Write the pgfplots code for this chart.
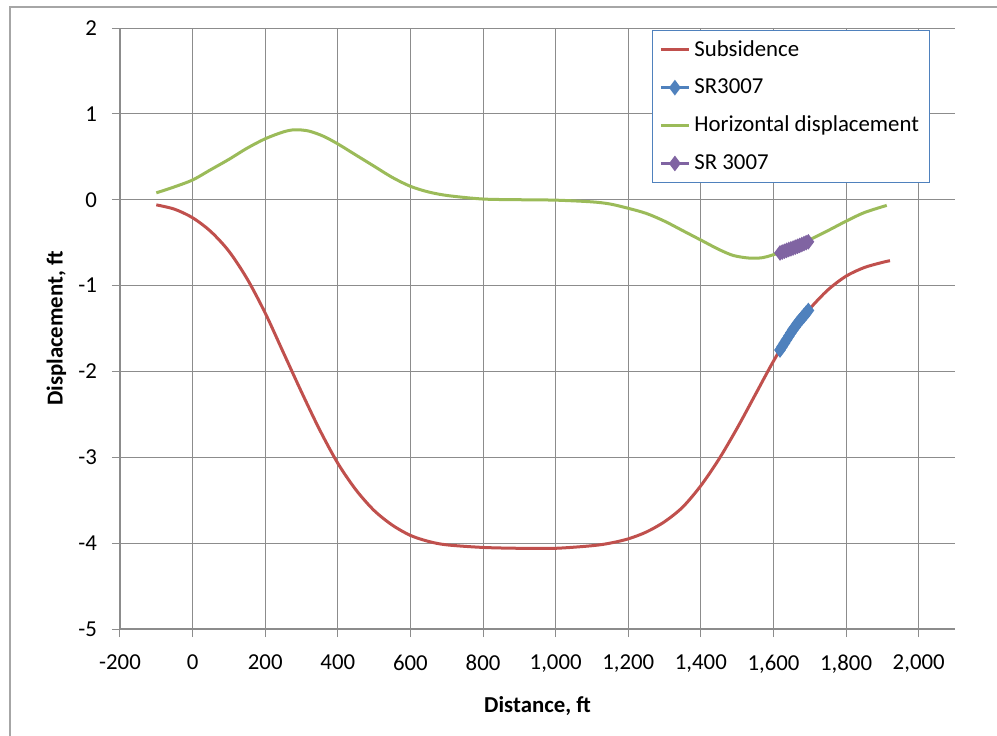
\documentclass[border=0pt]{standalone}
\usepackage{pgfplots}
\pgfplotsset{compat=1.18}
\usepackage{fontspec}
\setmainfont{Carlito}
\definecolor{exred}{HTML}{C0504D}
\definecolor{exblue}{HTML}{4F81BD}
\definecolor{exgreen}{HTML}{9BBB59}
\definecolor{expurple}{HTML}{8064A2}
\definecolor{gridgray}{HTML}{8C8C8C}
\definecolor{bordergray}{HTML}{A6A6A6}
\begin{document}
\begin{tikzpicture}
\useasboundingbox (0pt,0pt) rectangle (498.5pt,367.5pt);
\draw[bordergray,line width=0.6pt] (5pt,-3pt) -- (5pt,364pt) -- (503pt,364pt);
\begin{axis}[
  at={(60pt,53pt)}, anchor=south west,
  scale only axis, width=417.5pt, height=300.5pt,
  xmin=-200, xmax=2100, ymin=-5, ymax=2,
  xtick={-200,0,200,400,600,800,1000,1200,1400,1600,1800,2000},
  xticklabels={-200,0,200,400,600,800,{1,000},{1,200},{1,400},{1,600},{1,800},{2,000}},
  ytick={-5,-4,-3,-2,-1,0,1,2},
  yticklabels={-5,-4,-3,-2,-1,0,1,2},
  font=\fontsize{11.4}{13.7}\selectfont,
  tick label style={font=\fontsize{11.4}{13.7}\selectfont},
  grid=major,
  major grid style={gridgray,line width=0.5pt},
  axis line style={gridgray,line width=0.8pt},
  axis x line*=bottom, axis y line*=left,
  tick align=outside, major tick length=4pt,
  tick style={gridgray,line width=0.5pt},
  xticklabel style={yshift=-5.5pt},
  yticklabel style={xshift=-4pt},
  xlabel={\bfseries Distance, ft},
  ylabel={\bfseries Displacement, ft},
  xlabel style={at={(axis description cs:0.5,-0.129)},anchor=center},
  ylabel style={at={(axis description cs:-0.076,0.5)},anchor=center},
  legend style={at={(0.637,0.997)},anchor=north west,draw=exblue,line width=0.5pt,fill=white,
    font=\fontsize{11.4}{13.7}\selectfont,row sep=5.8pt,inner xsep=3.5pt,inner ysep=3pt,
    cells={anchor=west}},
  legend image code/.code={\draw[#1,mark=none] (0pt,0pt) -- (14pt,0pt); \draw[#1] plot coordinates {(7pt,0pt)};},
  clip=false,
]
\addplot[exred,line width=1.5pt,smooth,tension=0.5] coordinates {
(-100,-0.06) (-50,-0.11) (0,-0.21) (50,-0.37) (100,-0.60) (150,-0.92) (200,-1.32)
(250,-1.78) (300,-2.24) (350,-2.68) (400,-3.07) (450,-3.38) (500,-3.62) (550,-3.79)
(600,-3.91) (650,-3.98) (700,-4.02) (800,-4.05) (900,-4.06) (1000,-4.06)
(1100,-4.03) (1150,-4.00) (1200,-3.95) (1250,-3.87) (1300,-3.75) (1350,-3.58)
(1400,-3.33) (1450,-3.02) (1500,-2.66) (1550,-2.27) (1600,-1.88) (1650,-1.53)
(1700,-1.27) (1750,-1.05) (1800,-0.89) (1850,-0.79) (1900,-0.73) (1921,-0.71)};
\addlegendentry{Subsidence}
\addplot[exblue,line width=1.5pt,mark=diamond*,mark size=2.7pt,mark options={solid}] coordinates {
(1618,-1.75) (1624,-1.71) (1630,-1.67) (1636,-1.63) (1642,-1.59) (1648,-1.55)
(1654,-1.51) (1660,-1.48) (1666,-1.44) (1672,-1.41) (1678,-1.38) (1684,-1.35)
(1690,-1.32) (1696,-1.29)};
\addlegendentry{SR3007}
\addplot[exgreen,line width=1.5pt,smooth,tension=0.5] coordinates {
(-100,0.08) (-50,0.15) (0,0.23) (50,0.35) (100,0.47) (150,0.60) (200,0.71) (250,0.79)
(282,0.815) (320,0.80) (360,0.74) (400,0.65) (450,0.52) (500,0.39) (550,0.26)
(600,0.156) (650,0.09) (705,0.047) (800,0.008) (900,0.0) (1000,-0.005) (1100,-0.025)
(1150,-0.05) (1200,-0.10) (1250,-0.16) (1300,-0.25) (1350,-0.36) (1400,-0.47) (1450,-0.58)
(1490,-0.65) (1534,-0.68) (1570,-0.675) (1600,-0.64) (1650,-0.57) (1693,-0.48)
(1750,-0.36) (1800,-0.25) (1850,-0.15) (1912,-0.066)};
\addlegendentry{Horizontal displacement}
\addplot[expurple,line width=1.5pt,mark=diamond*,mark size=2.7pt,mark options={solid}] coordinates {
(1618,-0.62) (1624,-0.61) (1630,-0.60) (1636,-0.59) (1642,-0.58) (1648,-0.572)
(1654,-0.563) (1660,-0.553) (1666,-0.543) (1672,-0.533) (1678,-0.522) (1684,-0.511)
(1690,-0.50) (1696,-0.49)};
\addlegendentry{SR 3007}
\end{axis}
\end{tikzpicture}
\end{document}
